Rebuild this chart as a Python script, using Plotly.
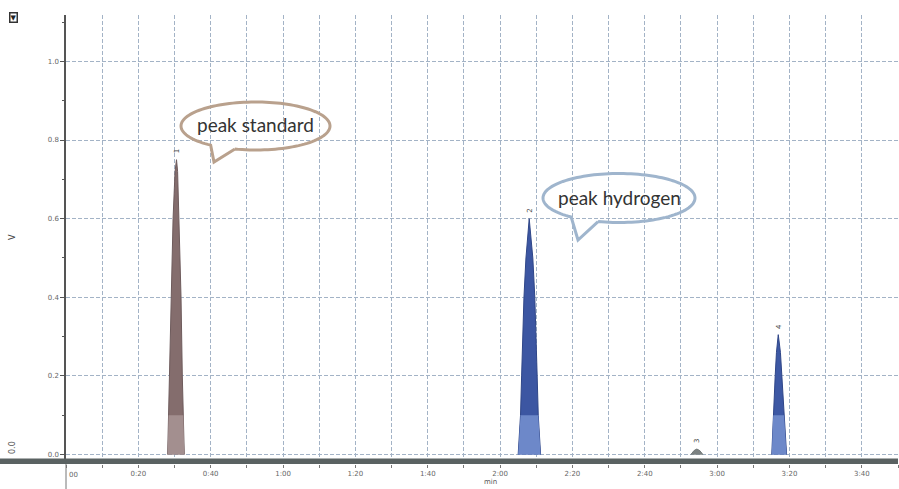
import numpy as np
import plotly.graph_objects as go

# ---------------- data ----------------
peak1_t = [28.1, 28.35, 28.6, 28.95, 29.6, 30.15, 30.55, 30.85, 31.25, 31.8, 32.15, 32.45, 32.7]
peak1_v = [0.0, 0.1, 0.2, 0.4, 0.6, 0.72, 0.75, 0.72, 0.6, 0.4, 0.2, 0.1, 0.0]

peak2_t = [125.0, 125.65, 125.95, 126.6, 127.15, 128.05, 129.05, 129.6, 130.25, 130.55, 131.2]
peak2_v = [0.0, 0.1, 0.2, 0.4, 0.5, 0.6, 0.5, 0.4, 0.2, 0.1, 0.0]

peak3_t = [172.75, 173.6, 174.4, 175.2, 176.05]
peak3_v = [0.0, 0.01, 0.014, 0.01, 0.0]

peak4_t = [195.1, 195.5, 196.05, 196.4, 196.9, 197.5, 197.9, 198.5, 199.2]
peak4_v = [0.0, 0.1, 0.2, 0.26, 0.305, 0.26, 0.2, 0.1, 0.0]

peak_labels = ["1", "2", "3", "4"]

x_tick_vals = [20, 40, 60, 80, 100, 120, 140, 160, 180, 200, 220]
x_tick_text = ["0:20", "0:40", "1:00", "1:20", "1:40", "2:00", "2:20", "2:40", "3:00", "3:20", "3:40"]
y_tick_vals = [0.0, 0.2, 0.4, 0.6, 0.8, 1.0]
y_tick_text = ["0.0", "0.2", "0.4", "0.6", "0.8", "1.0"]

callout_texts = ["peak standard", "peak hydrogen"]

# ---------------- styling ----------------
W, H = 899, 489
ML, MR, MT, MB = 66, 1, 15, 25
PW, PH = W - ML - MR, H - MT - MB
GRID = "#a3b3c6"
DASH = "4px,2px"
TICKFONT = dict(family="DejaVu Sans", size=7, color="#666")
LIGHT_CUT = 0.1

peaks = [
    (peak1_t, peak1_v, "#846d6d", "#a38f8f", "#6e5b5c"),
    (peak2_t, peak2_v, "#3c56a2", "#6d88c9", "#2f4688"),
    (peak3_t, peak3_v, "#7c8282", "#7c8282", "#6a7070"),
    (peak4_t, peak4_v, "#3d58a4", "#6d88c9", "#2f4688"),
]

fig = go.Figure()
for t, v, dark, light, edge in peaks:
    fig.add_trace(go.Scatter(x=t, y=v, mode="lines", fill="tozeroy",
                             fillcolor=dark, line=dict(color=edge, width=1),
                             hoverinfo="skip", showlegend=False))
    fig.add_trace(go.Scatter(x=t, y=np.minimum(np.array(v), LIGHT_CUT), mode="lines",
                             fill="tozeroy", fillcolor=light,
                             line=dict(color=light, width=0),
                             hoverinfo="skip", showlegend=False))

# peak number labels
for (t, v, *_), lab in zip(peaks, peak_labels):
    i = int(np.argmax(v))
    fig.add_annotation(x=t[i], y=v[i], text=lab, showarrow=False, yshift=8,
                       textangle=-90, font=dict(family="DejaVu Sans", size=7, color="#444"))


def px2paper(px, py):
    return (px - ML) / PW, (H - MB - py) / PH


def bubble_path(cx, cy, rx, ry, t_left, t_right, tip):
    angs = np.radians(np.linspace(t_right, t_left - 360, 120))
    pts = [(cx + rx * np.cos(a), cy + ry * np.sin(a)) for a in angs]
    pts.append(tip)
    pts.append(pts[0])
    segs = []
    for k, (px, py) in enumerate(pts):
        x, y = px2paper(px, py)
        segs.append(("M" if k == 0 else "L") + f"{x:.5f},{y:.5f}")
    return " ".join(segs)


bubbles = [
    dict(cx=255.5, cy=126, rx=74.5, ry=24, tl=127, tr=106, tip=(214, 162), color="#b9a18d"),
    dict(cx=619, cy=198, rx=76, ry=24.5, tl=129, tr=106, tip=(578, 240), color="#9fb5cd"),
]
for b, txt in zip(bubbles, callout_texts):
    fig.add_shape(type="path", xref="paper", yref="paper",
                  path=bubble_path(b["cx"], b["cy"], b["rx"], b["ry"], b["tl"], b["tr"], b["tip"]),
                  line=dict(color=b["color"], width=3), layer="above")
    x, y = px2paper(b["cx"], b["cy"] - 1)
    fig.add_annotation(x=x, y=y, xref="paper", yref="paper", text=txt, showarrow=False,
                       xanchor="center", yanchor="middle",
                       font=dict(family="Lato", size=19, color="#333"))

# thick baseline band
fig.add_shape(type="rect", xref="paper", yref="paper", x0=-ML / PW, x1=1.0,
              y0=0.0, y1=5.5 / PH, fillcolor="#5a6262", line=dict(width=0), layer="above")
# y axis line extended below plot
fig.add_shape(type="line", xref="paper", yref="paper", x0=0, x1=0, y0=-MB / PH, y1=0,
              line=dict(color="#777", width=1))

# extra texts
fig.add_annotation(x=0, y=0, xref="x", yref="paper", text="00", showarrow=False,
                   xanchor="left", yanchor="top", yshift=-5, xshift=1, font=TICKFONT)
fig.add_annotation(x=(490 - ML) / PW, y=-(482 - (H - MB)) / PH, xref="paper", yref="paper",
                   text="min", showarrow=False, xanchor="center", yanchor="middle",
                   font=dict(family="DejaVu Sans", size=7, color="#555"))
fig.add_annotation(x=(12 - ML) / PW, y=(H - MB - 237) / PH, xref="paper", yref="paper",
                   text="V", showarrow=False, textangle=-90, xanchor="center", yanchor="middle",
                   font=dict(family="DejaVu Sans", size=8, color="#444"))
fig.add_annotation(x=(12 - ML) / PW, y=(H - MB - 447) / PH, xref="paper", yref="paper",
                   text="0.0", showarrow=False, textangle=-90, xanchor="center", yanchor="middle",
                   font=dict(family="DejaVu Sans", size=8, color="#555"))
fig.add_annotation(x=(13 - ML) / PW, y=(H - MB - 18) / PH, xref="paper", yref="paper",
                   text="▼", showarrow=False, bordercolor="#333", borderwidth=1.5, borderpad=0,
                   xanchor="center", yanchor="middle",
                   font=dict(family="DejaVu Sans", size=7, color="#222"))

fig.update_layout(
    width=W, height=H,
    margin=dict(l=ML, r=MR, t=MT, b=MB, pad=0),
    paper_bgcolor="white", plot_bgcolor="white",
    showlegend=False,
    xaxis=dict(range=[0, 230], tickvals=x_tick_vals, ticktext=x_tick_text,
               showgrid=True, gridcolor=GRID, griddash=DASH, gridwidth=1,
               ticks="outside", ticklen=3, tickcolor="#777", tickfont=TICKFONT,
               minor=dict(dtick=10, tick0=0, showgrid=True, gridcolor=GRID, griddash=DASH,
                          ticks="outside", ticklen=3, tickcolor="#777"),
               showline=False, zeroline=False),
    yaxis=dict(range=[-0.024, 1.118], tickvals=y_tick_vals, ticktext=y_tick_text,
               showgrid=True, gridcolor=GRID, griddash=DASH, gridwidth=1,
               ticks="outside", ticklen=4, tickcolor="#555", tickfont=TICKFONT,
               minor=dict(dtick=0.1, tick0=0, ticks="outside", ticklen=2, tickcolor="#555"),
               showline=True, linecolor="#555", linewidth=1.5, zeroline=False),
)

fig.write_html("out.html", config={"displayModeBar": False},
               post_script="document.body.style.margin='0';document.body.style.overflow='hidden';")
